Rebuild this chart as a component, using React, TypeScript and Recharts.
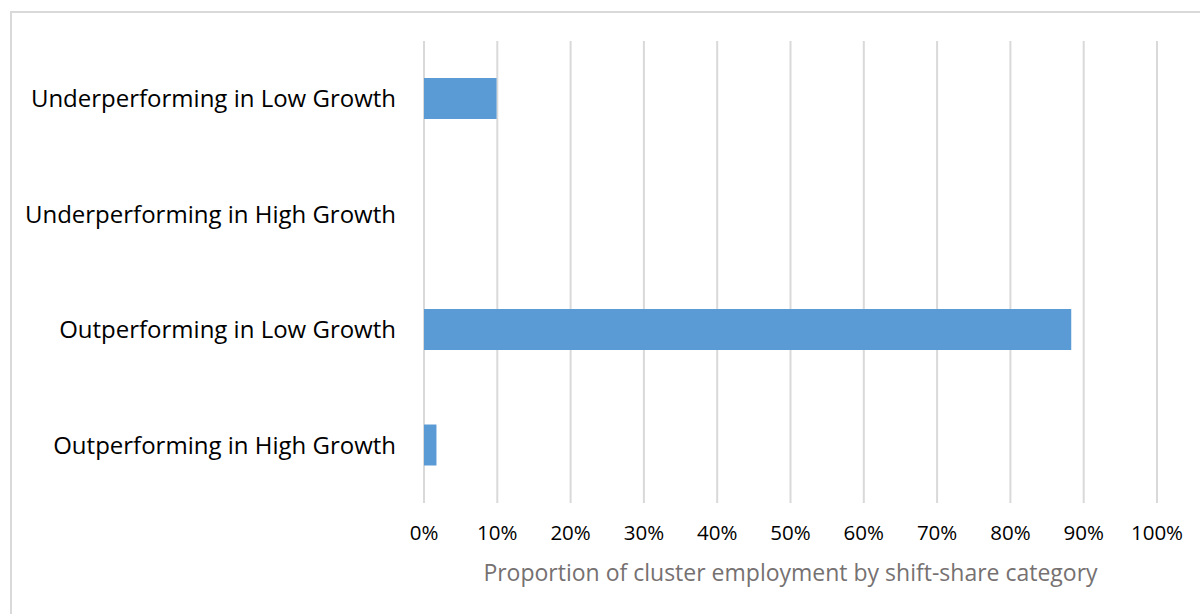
import React from 'react';
import { BarChart, Bar, XAxis, YAxis, CartesianGrid } from 'recharts';

const categories = [
  'Underperforming in Low Growth',
  'Underperforming in High Growth',
  'Outperforming in Low Growth',
  'Outperforming in High Growth',
];
const shares = [0.099, 0, 0.883, 0.017];
const xTicks = [0, 0.1, 0.2, 0.3, 0.4, 0.5, 0.6, 0.7, 0.8, 0.9, 1];

const data = categories.map((name, i) => ({ name, value: shares[i] }));

const font = '"Open Sans", "Noto Sans", sans-serif';

export default function App() {
  return (
    <div style={{ position: 'absolute', left: 0, top: 0, width: 1200, height: 614, overflow: 'hidden', background: '#fff' }}>
      <div
        style={{
          position: 'absolute',
          left: 10,
          top: 11,
          width: 1200,
          height: 620,
          border: '2px solid #d9d9d9',
          boxSizing: 'border-box',
        }}
      />
      <div style={{ position: 'absolute', left: 0, top: 0 }}>
        <BarChart
          width={1200}
          height={614}
          data={data}
          layout="vertical"
          margin={{ top: 41, right: 43, bottom: 0, left: 0 }}
          barSize={41}
        >
          <CartesianGrid horizontal={false} stroke="#d9d9d9" strokeWidth={2} verticalValues={xTicks} />
          <XAxis
            type="number"
            domain={[0, 1]}
            ticks={xTicks}
            interval={0}
            height={111}
            axisLine={false}
            tickLine={false}
            tickSize={0}
            tickMargin={22}
            tickFormatter={(v: number) => `${Math.round(v * 100)}%`}
            tick={{ fontSize: 20.5, fill: '#000', fontFamily: font }}
            label={{
              value: 'Proportion of cluster employment by shift-share category',
              position: 'insideBottom',
              offset: 33,
              fontSize: 23,
              fill: '#767171',
              fontFamily: font,
            }}
          />
          <YAxis
            type="category"
            dataKey="name"
            width={424}
            axisLine={false}
            tickLine={false}
            tickSize={0}
            tickMargin={28}
            tick={{ fontSize: 24, fill: '#000', fontFamily: font }}
          />
          <Bar dataKey="value" fill="#5b9bd5" isAnimationActive={false} />
        </BarChart>
      </div>
    </div>
  );
}
